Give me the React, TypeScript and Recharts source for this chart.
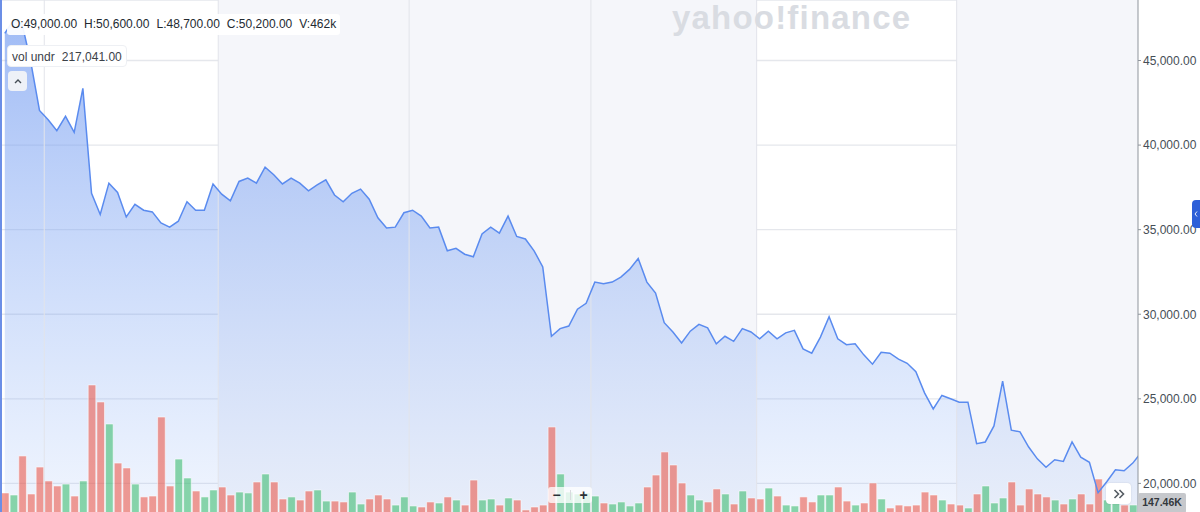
import React from 'react'
import {
  ComposedChart,
  Area,
  Bar,
  Line,
  Cell,
  XAxis,
  YAxis,
  CartesianGrid,
  ReferenceArea,
  ReferenceLine,
} from 'recharts'

// daily close
const prices = [
  46600, 47400, 47150, 44900, 42050, 41500, 40850, 41700, 40750, 43350,
  37150, 35900, 37750, 37200, 35750, 36500, 36150, 36050, 35400, 35150,
  35500, 36650, 36150, 36150, 37700, 37100, 36700, 37850, 38050, 37750,
  38700, 38250, 37700, 38050, 37750, 37300, 37650, 37950, 37050, 36650,
  37150, 37400, 36800, 35700, 35100, 35150, 36000, 36150, 35800, 35100,
  35150, 33750, 33900, 33550, 33400, 34750, 35150, 34800, 35800, 34600,
  34450, 33750, 32800, 28700, 29150, 29300, 30300, 30650, 31900, 31800,
  31900, 32200, 32650, 33300, 31900, 31250, 29500, 28950, 28300, 29000,
  29400, 29200, 28250, 28700, 28400, 29150, 28950, 28550, 29000, 28550,
  28900, 29050, 27950, 27700, 28650, 29850, 28550, 28200, 28250, 27600,
  27050, 27750, 27700, 27350, 27100, 26600, 25350, 24400, 25200, 25000,
  24800, 24800, 22350, 22450, 23400, 26050, 23150, 23050, 22150, 21450,
  20950, 21400, 21300, 22450, 21550, 21250, 19450, 20100, 20800, 20750,
  21200, 21850,
]

// volume in thousands
const volumes = [
  241, 225, 528, 233, 442, 334, 295, 310, 217, 334,
  1079, 947, 776, 473, 435, 310, 210, 217, 830, 295,
  504, 357, 256, 210, 264, 287, 225, 248, 241, 326,
  388, 326, 194, 210, 186, 256, 264, 178, 178, 171,
  248, 155, 194, 225, 194, 147, 210, 140, 132, 171,
  163, 210, 186, 147, 341, 186, 194, 147, 202, 186,
  109, 132, 147, 753, 388, 248, 233, 241, 217, 163,
  155, 171, 140, 163, 287, 380, 559, 458, 318, 225,
  186, 171, 272, 233, 155, 256, 202, 194, 279, 217,
  147, 140, 210, 171, 225, 225, 287, 178, 147, 163,
  318, 194, 124, 147, 140, 147, 248, 225, 186, 155,
  147, 124, 233, 295, 163, 202, 326, 147, 272, 233,
  210, 186, 155, 194, 233, 155, 349, 186, 171, 147,
  147.46, 150,
]

// 1 = up day (green), 0 = down day (red)
const volUp = [
  0, 1, 0, 0, 0, 0, 0, 1, 0, 1,
  0, 0, 1, 0, 0, 1, 0, 0, 0, 0,
  1, 1, 0, 1, 1, 0, 0, 1, 1, 0,
  1, 0, 0, 1, 0, 0, 1, 1, 0, 0,
  1, 1, 0, 0, 0, 1, 1, 1, 0, 0,
  1, 0, 1, 0, 0, 1, 1, 0, 1, 0,
  0, 0, 0, 0, 1, 1, 1, 1, 1, 0,
  1, 1, 1, 1, 0, 0, 0, 0, 0, 1,
  1, 0, 0, 1, 0, 1, 0, 0, 1, 0,
  1, 1, 0, 0, 1, 1, 0, 0, 1, 0,
  0, 1, 0, 0, 0, 0, 0, 0, 1, 0,
  0, 1, 0, 1, 1, 1, 0, 0, 0, 0,
  0, 1, 0, 1, 0, 0, 0, 1, 1, 0,
  1, 1,
]

// month boundaries (in trading-day index units)
const monthBreaks = [4.55, 24.6, 46.6, 67.55, 86.65, 109.7]
const xDomain: [number, number] = [-0.55, 130.6]
const shadedBands: [number, number][] = [
  [24.6, 86.65],
  [109.7, 130.6],
]

const priceTicks = [20000, 25000, 30000, 35000, 40000, 45000]
const priceDomain: [number, number] = [17600, 48577]
const volDomain: [number, number] = [0, 4066]

const ohlc = ['O:49,000.00', 'H:50,600.00', 'L:48,700.00', 'C:50,200.00', 'V:462k']
const volLabel = 'vol undr'
const volValue = '217,041.00'
const lastVolLabel = '147.46K'

const data = prices.map((price, i) => ({
  i,
  price,
  vol: volumes[i],
  up: volUp[i] === 1,
}))

const FONT = '"Liberation Sans", Arial, sans-serif'
const GREEN = 'rgba(47,184,101,0.55)'
const RED = 'rgba(235,77,60,0.55)'

function formatPrice(v: number): string {
  return v.toLocaleString('en-US', { minimumFractionDigits: 2, maximumFractionDigits: 2 })
}

export default function App() {
  return (
    <div
      style={{
        position: 'relative',
        width: 1200,
        height: 512,
        overflow: 'hidden',
        background: '#fff',
        fontFamily: FONT,
      }}
    >
      <style>{'body{margin:0}'}</style>
      <ComposedChart
        width={1200}
        height={524}
        data={data}
        margin={{ top: 0, right: 0, bottom: 0, left: 0 }}
      >
        <defs>
          <linearGradient id="priceFill" x1="0" y1="0" x2="0" y2="1">
            <stop offset="0%" stopColor="#6f98f0" stopOpacity={0.66} />
            <stop offset="100%" stopColor="#8fb4f7" stopOpacity={0.12} />
          </linearGradient>
        </defs>
        <XAxis
          dataKey="i"
          type="number"
          domain={xDomain}
          allowDataOverflow
          hide
        />
        <YAxis
          yAxisId="price"
          orientation="right"
          width={62}
          domain={priceDomain}
          ticks={priceTicks}
          allowDataOverflow
          tickFormatter={formatPrice}
          tick={{ fill: '#464e56', fontSize: 12, fontFamily: FONT }}
          tickSize={3}
          tickMargin={2}
          axisLine={{ stroke: '#8f959c' }}
          tickLine={{ stroke: '#8f959c' }}
        />
        <YAxis yAxisId="vol" domain={volDomain} hide />
        {shadedBands.map(([a, b], k) => (
          <ReferenceArea
            key={k}
            yAxisId="price"
            x1={a}
            x2={b}
            fill="#f5f6fa"
            fillOpacity={1}
            stroke="none"
          />
        ))}
        <CartesianGrid
          yAxisId="price"
          vertical={false}
          stroke="#e5e7ec"
          strokeWidth={1.3}
        />
        {monthBreaks.map((b) => (
          <ReferenceLine key={b} yAxisId="price" x={b} stroke="#e2e4ea" strokeWidth={1} />
        ))}
        <Area
          yAxisId="price"
          dataKey="price"
          type="linear"
          stroke="none"
          fill="url(#priceFill)"
          fillOpacity={1}
          isAnimationActive={false}
          activeDot={false}
        />
        <Bar
          yAxisId="vol"
          dataKey="vol"
          barSize={7.6}
          stroke="rgba(255,255,255,0.55)"
          strokeWidth={1}
          isAnimationActive={false}
        >
          {data.map((d) => (
            <Cell key={d.i} fill={d.up ? GREEN : RED} />
          ))}
        </Bar>
        <Line
          yAxisId="price"
          dataKey="price"
          type="linear"
          stroke="#5a8bef"
          strokeWidth={1.5}
          dot={false}
          activeDot={false}
          isAnimationActive={false}
        />
      </ComposedChart>

      {/* watermark */}
      <div
        style={{
          position: 'absolute',
          left: 672,
          top: 1,
          fontSize: 33,
          lineHeight: '33px',
          fontWeight: 900,
          letterSpacing: 1.2,
          color: '#d9dce2',
          pointerEvents: 'none',
        }}
      >
        yahoo!finance
      </div>

      {/* left edge marker */}
      <div style={{ position: 'absolute', left: 0, top: 0, width: 2, height: 512, background: '#6b8ee6' }} />

      {/* OHLC header */}
      <div
        style={{
          position: 'absolute',
          left: 7,
          top: 14,
          height: 21,
          lineHeight: '21px',
          padding: '0 4px',
          background: 'rgba(255,255,255,0.92)',
          fontSize: 12,
          color: '#232a31',
          whiteSpace: 'nowrap',
          borderRadius: 3,
        }}
      >
        {ohlc.map((t, k) => (
          <span key={t} style={{ marginRight: k < ohlc.length - 1 ? 7 : 0 }}>
            {t}
          </span>
        ))}
      </div>

      {/* study label */}
      <div
        style={{
          position: 'absolute',
          left: 7,
          top: 45,
          height: 22,
          lineHeight: '22px',
          padding: '0 4px',
          background: '#fff',
          border: '1px solid #eef0f4',
          borderRadius: 4,
          fontSize: 12,
          color: '#3b4148',
          whiteSpace: 'nowrap',
          boxSizing: 'border-box',
        }}
      >
        <span style={{ marginRight: 7 }}>{volLabel}</span>
        <span>{volValue}</span>
      </div>

      {/* collapse button */}
      <div
        style={{
          position: 'absolute',
          left: 8,
          top: 71,
          width: 19,
          height: 20,
          background: '#eef1f7',
          borderRadius: 4,
          display: 'flex',
          alignItems: 'center',
          justifyContent: 'center',
        }}
      >
        <svg width="8" height="5" viewBox="0 0 8 5">
          <path d="M1 4 L4 1 L7 4" fill="none" stroke="#464e56" strokeWidth={1.4} />
        </svg>
      </div>

      {/* right side tab */}
      <div
        style={{
          position: 'absolute',
          left: 1192,
          top: 200,
          width: 8,
          height: 28,
          background: '#2d5fd8',
          borderRadius: '4px 0 0 4px',
          display: 'flex',
          alignItems: 'center',
          justifyContent: 'center',
        }}
      >
        <svg width="4" height="6" viewBox="0 0 4 6">
          <path d="M3 0.5 L1 3 L3 5.5" fill="none" stroke="#fff" strokeWidth={0.9} />
        </svg>
      </div>

      {/* zoom controls */}
      <div
        style={{
          position: 'absolute',
          left: 548,
          top: 487,
          width: 44,
          height: 16,
          background: 'rgba(255,255,255,0.78)',
          borderRadius: 3,
          display: 'flex',
          alignItems: 'center',
          justifyContent: 'space-around',
          fontSize: 14,
          fontWeight: 700,
          color: '#2c3136',
          lineHeight: '16px',
        }}
      >
        <span>−</span>
        <span style={{ width: 1, height: 10, background: '#d8dade' }} />
        <span>+</span>
      </div>

      {/* scroll to latest */}
      <div
        style={{
          position: 'absolute',
          left: 1106,
          top: 483,
          width: 25,
          height: 21,
          background: '#fff',
          borderRadius: 4,
          boxShadow: '0 0 2px rgba(0,0,0,0.12)',
          display: 'flex',
          alignItems: 'center',
          justifyContent: 'center',
        }}
      >
        <svg width="12" height="10" viewBox="0 0 12 10">
          <path
            d="M1.5 1 L5.5 5 L1.5 9 M6.5 1 L10.5 5 L6.5 9"
            fill="none"
            stroke="#555c63"
            strokeWidth={1.6}
          />
        </svg>
      </div>

      {/* last volume */}
      <div
        style={{
          position: 'absolute',
          left: 1138,
          top: 493,
          width: 48,
          height: 20,
          background: '#c6c8cc',
          borderRadius: 2,
          fontSize: 10.5,
          fontWeight: 700,
          color: '#33383d',
          lineHeight: '19px',
          textAlign: 'center',
        }}
      >
        {lastVolLabel}
      </div>
    </div>
  )
}
